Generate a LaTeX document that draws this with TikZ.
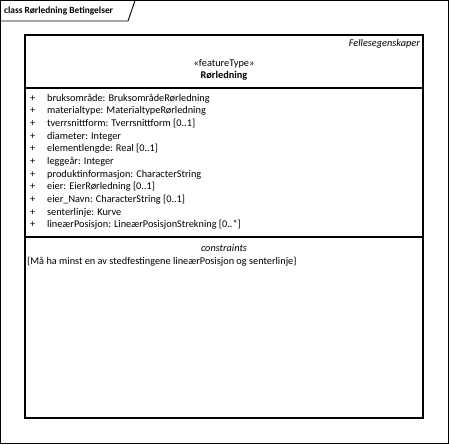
\documentclass[tikz,border=0pt]{standalone}
\usepackage{fontspec}
\setmainfont{Carlito}
\begin{document}
\begin{tikzpicture}[x=1pt,y=-1pt,
  txt/.style={inner sep=0pt,font=\fontsize{10.3}{12}\selectfont,anchor=west},
  frameline/.style={draw=black,line width=0.9pt},
  boxline/.style={draw=black,line width=1.1pt}]
\useasboundingbox (0,0) rectangle (449,444);
\fill[white] (0,0) rectangle (449,444);
% outer frame
\draw[frameline] (0.5,0.5) rectangle (448,443);
\draw[frameline] (0.5,21) -- (128,21) -- (135,0.5);
\node[txt,font=\fontsize{9.4}{11}\selectfont\bfseries] (title) at (4,11) {class Rørledning Betingelser};
% class box
\draw[boxline] (25,35) rectangle (423,418);
\draw[boxline] (25,88) -- (423,88);
\draw[boxline] (25,237) -- (423,237);
\node[txt,anchor=east,font=\fontsize{10.3}{12}\selectfont\itshape] (fe) at (420,44) {Fellesegenskaper};
\node[txt,anchor=center] (st) at (224,64) {«featureType»};
\node[txt,anchor=center,font=\fontsize{10.3}{12}\selectfont\bfseries] (nm) at (224,76) {Rørledning};
\foreach \i/\t in {0/{bruksområde: BruksområdeRørledning},1/{materialtype: MaterialtypeRørledning},2/{tverrsnittform: Tverrsnittform [0..1]},3/{diameter: Integer},4/{elementlengde: Real [0..1]},5/{leggeår: Integer},6/{produktinformasjon: CharacterString},7/{eier: EierRørledning [0..1]},8/{eier\_Navn: CharacterString [0..1]},9/{senterlinje: Kurve},10/{lineærPosisjon: LineærPosisjonStrekning [0..*]}}{
  \node[txt] (p\i) at (30,98.5+12.65*\i) {+};
  \node[txt] (a\i) at (47,98.5+12.65*\i) {\t};
}
\node[txt,anchor=center,font=\fontsize{10.3}{12}\selectfont\itshape] (cn) at (224,248) {constraints};
\node[txt] (c1) at (27,262) {\{Må ha minst en av stedfestingene lineærPosisjon og senterlinje\}};
\end{tikzpicture}
\end{document}
